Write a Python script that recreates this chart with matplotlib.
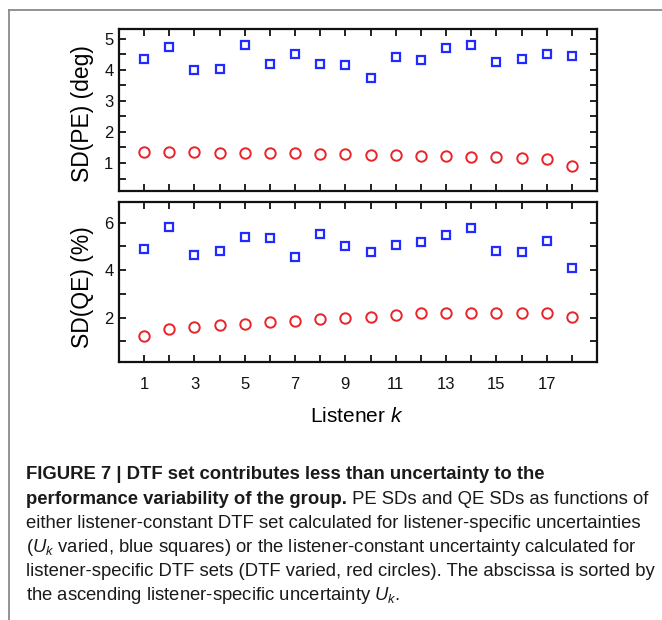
import matplotlib
matplotlib.use("Agg")
import matplotlib.pyplot as plt
from matplotlib.lines import Line2D
from matplotlib.ticker import MultipleLocator, FixedLocator, FixedFormatter

# Listener index (sorted by ascending listener-specific uncertainty)
listeners = list(range(1, 19))

# SD of polar error (deg)
pe_uk_varied = [4.33, 4.73, 3.98, 4.02, 4.78, 4.17, 4.50, 4.17, 4.15,
                3.73, 4.41, 4.30, 4.69, 4.78, 4.24, 4.33, 4.49, 4.43]
pe_dtf_varied = [1.36, 1.34, 1.34, 1.33, 1.32, 1.31, 1.31, 1.29, 1.29,
                 1.27, 1.25, 1.21, 1.21, 1.19, 1.19, 1.17, 1.14, 0.90]

# SD of quadrant error (%)
qe_uk_varied = [4.91, 5.83, 4.62, 4.82, 5.40, 5.34, 4.57, 5.54, 5.02,
                4.78, 5.07, 5.19, 5.47, 5.78, 4.82, 4.75, 5.24, 4.09]
qe_dtf_varied = [1.20, 1.51, 1.59, 1.69, 1.71, 1.80, 1.86, 1.93, 1.96,
                 2.03, 2.10, 2.17, 2.17, 2.18, 2.20, 2.20, 2.21, 2.04]

x_tick_labels = [str(k) if k % 2 == 1 else "" for k in listeners]

W, H = 662, 620
plt.rcParams["font.family"] = ["Liberation Sans", "DejaVu Sans"]
plt.rcParams["mathtext.fontset"] = "custom"
plt.rcParams["mathtext.rm"] = "Liberation Sans"
plt.rcParams["mathtext.it"] = "Liberation Sans:italic"

fig = plt.figure(figsize=(W / 100, H / 100), dpi=100)


def px_axes(left, top, right, bottom):
    return fig.add_axes([left / W, 1 - bottom / H, (right - left) / W, (bottom - top) / H])


ax1 = px_axes(119, 29, 597, 191)
ax2 = px_axes(119, 202, 597, 362)

blue = "#1f2bff"
red = "#e8242a"

for ax, uk, dtf in ((ax1, pe_uk_varied, pe_dtf_varied), (ax2, qe_uk_varied, qe_dtf_varied)):
    ax.plot(listeners, uk, linestyle="none", marker="s", markersize=6.0,
            markerfacecolor="none", markeredgecolor=blue, markeredgewidth=1.6)
    ax.plot(listeners, dtf, linestyle="none", marker="o", markersize=7.5,
            markerfacecolor="none", markeredgecolor=red, markeredgewidth=1.4)
    ax.set_xlim(0, 19)
    ax.xaxis.set_major_locator(FixedLocator(listeners))
    ax.tick_params(which="both", direction="in", top=True, right=True,
                   width=1.3, length=5, labelsize=12, colors="#111111", pad=4)
    for s in ax.spines.values():
        s.set_linewidth(1.6)
        s.set_color("#111111")

ax1.set_ylim(0.1, 5.31)
ax1.yaxis.set_major_locator(MultipleLocator(1))
ax1.yaxis.set_minor_locator(MultipleLocator(0.5))
ax1.set_xticklabels([])
ax1.set_ylabel("SD(PE) (deg)", fontsize=16.5, va="center")
ax1.yaxis.set_label_coords((82.7 - 119) / 478, (191 - 114) / 162)

ax2.set_ylim(0.12, 6.88)
ax2.yaxis.set_major_locator(MultipleLocator(2))
ax2.yaxis.set_minor_locator(MultipleLocator(1))
ax2.xaxis.set_major_formatter(FixedFormatter(x_tick_labels))
ax2.tick_params(axis="x", pad=11)
ax2.set_ylabel("SD(QE) (%)", fontsize=16.5, va="center")
ax2.yaxis.set_label_coords((82.7 - 119) / 478, (362 - 287.5) / 160)
ax2.set_xlabel("Listener $k$", fontsize=15, va="center")
ax2.xaxis.set_label_coords(0.497, (362 - 417) / 160)

# Outer frame of the figure panel
frame_kw = dict(color="#8a8a8a", linewidth=1.3)
fig.add_artist(Line2D([9 / W, 9 / W], [0, 1 - 10 / H], transform=fig.transFigure, **frame_kw))
fig.add_artist(Line2D([9 / W, 1], [1 - 10 / H, 1 - 10 / H], transform=fig.transFigure, **frame_kw))

# Caption (bold lead-in followed by regular text, left aligned on baselines)
cap_reg = dict(fontsize=13.3, color="#1a1a1a", va="baseline", ha="left")
cap_bold = dict(cap_reg, fontweight="bold")
x0 = 26
baselines = [479, 503.5, 527.7, 551.7, 575.7, 600]
renderer = fig.canvas.get_renderer()


def caption_line(y, parts):
    x = x0
    for txt, style in parts:
        t = fig.text(x / W, 1 - y / H, txt, **style)
        x = t.get_window_extent(renderer).x1


caption_line(baselines[0], [("FIGURE 7 | DTF set contributes less than uncertainty to the", cap_bold)])
caption_line(baselines[1], [("performance variability of the group.", cap_bold),
                            (" PE SDs and QE SDs as functions of", cap_reg)])
caption_line(baselines[2], [("either listener-constant DTF set calculated for listener-specific uncertainties", cap_reg)])
caption_line(baselines[3], [("($U_k$ varied, blue squares) or the listener-constant uncertainty calculated for", cap_reg)])
caption_line(baselines[4], [("listener-specific DTF sets (DTF varied, red circles). The abscissa is sorted by", cap_reg)])
caption_line(baselines[5], [("the ascending listener-specific uncertainty $U_k$.", cap_reg)])

fig.savefig("out.png", dpi=100)
